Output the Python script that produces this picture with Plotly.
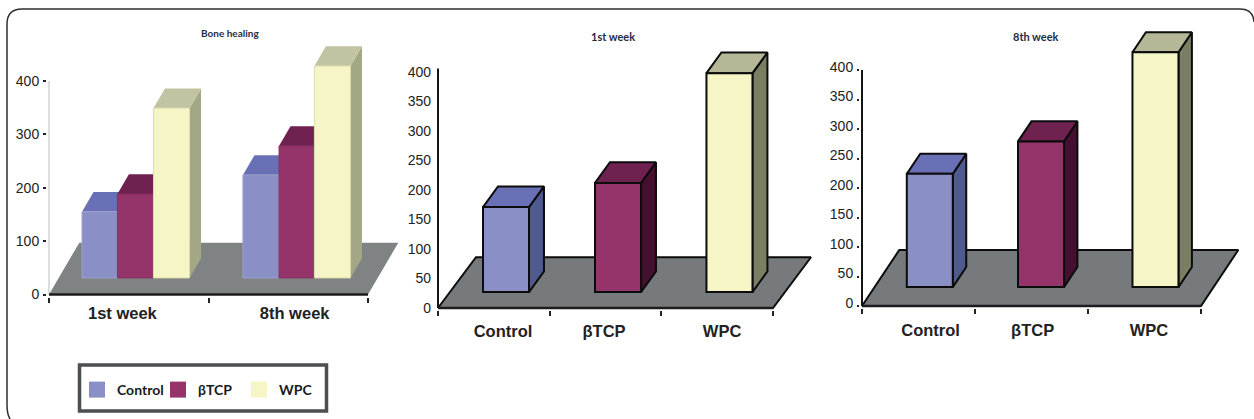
import plotly.graph_objects as go

WIDTH, HEIGHT = 1254, 419

# Values read against each chart's scale, measured as bar height above its footing
groups = ["Control", "βTCP", "WPC"]
weeks = ["1st week", "8th week"]
bone_control = [124, 193]
bone_btcp = [157, 247]
bone_wpc = [318, 397]
week1_values = [144, 185, 371]
week8_values = [192, 247, 398]
y_ticks_bone = [0, 100, 200, 300, 400]
y_ticks_weekly = [0, 50, 100, 150, 200, 250, 300, 350, 400]

FRONT = {"Control": "#8a8fc6", "βTCP": "#95346a", "WPC": "#f6f5c6"}
TOP = {"Control": "#6a70b6", "βTCP": "#6f2150", "WPC": "#b5b796"}
SIDE = {"Control": "#4f5a8e", "βTCP": "#45102f", "WPC": "#7a7f63"}
TOP_SOFT = {"Control": "#6a70b6", "βTCP": "#6f2150", "WPC": "#c2c3a2"}
SIDE_SOFT = {"Control": "#6a70b6", "βTCP": "#6f2150", "WPC": "#a4a785"}

TEXT = "#222222"
SANS = "Liberation Sans"
KEY_FONT = "Lato"
PLOT_TOP = 25  # pixel row where every plot area starts


def front_face(x, h, base, width):
    return x - width / 2, x + width / 2, base, base + h


def add_depth_faces(fig, axes, x, h, base, width, dx, dy, top_c, side_c, edge):
    left, right, bottom, top = front_face(x, h, base, width)
    line = dict(color=edge, width=2) if edge else dict(width=0)
    fig.add_trace(go.Scatter(
        x=[right, right + dx, right + dx, right, right],
        y=[top, top + dy, bottom + dy, bottom, top],
        fill="toself", fillcolor=side_c, mode="lines", line=line,
        showlegend=False, hoverinfo="skip", **axes))
    fig.add_trace(go.Scatter(
        x=[left, right, right + dx, left + dx, left],
        y=[top, top, top + dy, top + dy, top],
        fill="toself", fillcolor=top_c, mode="lines", line=line,
        showlegend=False, hoverinfo="skip", **axes))


def add_panel(fig, idx, p):
    """One chart: floor and depth faces on base axes, front faces on an overlay above."""
    n_base, n_over = 2 * idx + 1, 2 * idx + 2
    sx = lambda n: "x" if n == 1 else f"x{n}"
    sy = lambda n: "y" if n == 1 else f"y{n}"
    ax_base = dict(xaxis=sx(n_base), yaxis=sy(n_base))
    ax_over = dict(xaxis=sx(n_over), yaxis=sy(n_over))

    ux, uy = p["ux"], p["uy"]
    x_range = [-2 / ux, (p["right"] - p["x0"]) / ux]
    y_range = [-2 / uy, (p["y0"] - PLOT_TOP) / uy]
    x_dom = [(p["x0"] - 2) / WIDTH, p["right"] / WIDTH]
    y_dom = [1 - (p["y0"] + 2) / HEIGHT, 1 - PLOT_TOP / HEIGHT]

    span, fdx, fdy = p["span"], p["floor_dx"], p["floor_dy"]
    edge = p["edge"]
    fig.add_trace(go.Scatter(
        x=[0, span, span + fdx, fdx, 0], y=[0, 0, fdy, fdy, 0],
        fill="toself", fillcolor=p["floor"], mode="lines",
        line=dict(color=edge, width=2) if edge else dict(width=0),
        showlegend=False, hoverinfo="skip", **ax_base))

    for g in groups:
        for x, h in zip(p["x"][g], p["values"][g]):
            add_depth_faces(fig, ax_base, x, h, p["base"], p["width"],
                            p["dx"], p["dy"], p["top"][g], p["side"][g], edge)

    # Axis lines stop at the scale and the span, short of the floor's overhang
    fig.add_trace(go.Scatter(x=[0, 0], y=[0, 400 + p["axis_over"]], mode="lines",
                             line=dict(color=p["yline"], width=2),
                             showlegend=False, hoverinfo="skip", **ax_base))
    fig.add_trace(go.Scatter(x=[0, span], y=[0, 0], mode="lines",
                             line=dict(color="#1c1c1c", width=2.5),
                             showlegend=False, hoverinfo="skip", **ax_base))

    for g in groups:
        fig.add_trace(go.Bar(
            x=p["x"][g], y=p["values"][g], base=p["base"], width=p["width"],
            name=g, marker=dict(color=FRONT[g],
                                line=dict(color=edge or p["soft_edge"][g], width=2 if edge else 1)),
            showlegend=False, **ax_over))

    suffix = lambda n: "" if n == 1 else str(n)
    fig.update_layout({
        f"xaxis{suffix(n_base)}": dict(
            domain=x_dom, range=x_range, anchor=sy(n_base), showgrid=False, zeroline=False,
            tickmode="array", tickvals=p["label_x"], ticktext=p["labels"], ticks="",
            ticklabelstandoff=p["x_standoff"],
            tickfont=dict(family=SANS, size=16.5, color=TEXT, weight=700),
            minor=dict(tickmode="array", tickvals=list(range(span + 1)), ticks="outside",
                       ticklen=5, tickwidth=2, tickcolor="#222222", showgrid=False)),
        f"yaxis{suffix(n_base)}": dict(
            domain=y_dom, range=y_range, anchor=sx(n_base), showgrid=False, zeroline=False,
            tickmode="array", tickvals=p["y_ticks"], ticks="outside" if p["y_ticklen"] else "",
            ticklen=p["y_ticklen"], tickwidth=2, tickcolor="#222222",
            ticklabelstandoff=p["y_standoff"], ticklabelshift=p["y_shift"],
            tickfont=dict(family=SANS, size=14, color=TEXT)),
        f"xaxis{suffix(n_over)}": dict(domain=x_dom, range=x_range, overlaying=sx(n_base),
                                       anchor=sy(n_over), visible=False),
        f"yaxis{suffix(n_over)}": dict(domain=y_dom, range=y_range, overlaying=sy(n_base),
                                       anchor=sx(n_over), visible=False),
    })


fig = go.Figure()

panels = [
    dict(values={"Control": bone_control, "βTCP": bone_btcp, "WPC": bone_wpc},
         x={"Control": [0.32, 1.329], "βTCP": [0.542, 1.555], "WPC": [0.768, 1.777]},
         labels=weeks, label_x=[0.46, 1.54], span=2, x0=49, y0=294.5, right=400,
         ux=159.5, uy=0.534, base=31, width=0.226, dx=0.072, dy=37,
         floor_dx=0.19, floor_dy=97, floor="#7f8384", edge=None, top=TOP_SOFT, side=SIDE_SOFT,
         soft_edge={"Control": "#9da1d0", "βTCP": "#8c3063", "WPC": "#dcdcae"},
         yline="#dadede", axis_over=0, y_ticks=y_ticks_bone, y_ticklen=3,
         y_standoff=1, y_shift=0, x_standoff=5),
    dict(values={"Control": [week1_values[0]], "βTCP": [week1_values[1]], "WPC": [week1_values[2]]},
         x={"Control": [0.609], "βTCP": [1.612], "WPC": [2.61]},
         labels=groups, label_x=[0.582, 1.487, 2.544], span=3, x0=438, y0=308, right=816,
         ux=111.67, uy=0.59, base=27, width=0.412, dx=0.134, dy=35,
         floor_dx=0.34, floor_dy=86, floor="#767a7c", edge="#0c0c0c", top=TOP, side=SIDE,
         soft_edge=None, yline="#141414", axis_over=6, y_ticks=y_ticks_weekly, y_ticklen=0,
         y_standoff=4, y_shift=0, x_standoff=9),
    dict(values={"Control": [week8_values[0]], "βTCP": [week8_values[1]], "WPC": [week8_values[2]]},
         x={"Control": [0.60], "βTCP": [1.584], "WPC": [2.597]},
         labels=groups, label_x=[0.607, 1.51, 2.54], span=3, x0=862, y0=306, right=1241,
         ux=113, uy=0.59, base=32, width=0.407, dx=0.119, dy=34,
         floor_dx=0.33, floor_dy=95, floor="#767a7c", edge="#0c0c0c", top=TOP, side=SIDE,
         soft_edge=None, yline="#141414", axis_over=0, y_ticks=y_ticks_weekly, y_ticklen=2,
         y_standoff=1, y_shift=-3, x_standoff=10),
]

for i, panel in enumerate(panels):
    add_panel(fig, i, panel)

# Square swatches for the shared key
for g in groups:
    fig.add_trace(go.Scatter(x=[None], y=[None], mode="markers", name=g,
                             marker=dict(symbol="square", size=16, color=FRONT[g]),
                             xaxis="x", yaxis="y"))


def px(x):
    return x / WIDTH


def py(y):
    return 1 - y / HEIGHT


titles = [("Bone healing", 230, 33, 10), ("1st week", 613, 36, 11), ("8th week", 1036, 36, 11)]
annotations = [
    dict(text=t, x=px(cx), y=py(cy), xref="paper", yref="paper", showarrow=False,
         xanchor="center", yanchor="middle",
         font=dict(family=KEY_FONT, size=s, color="#1f2c44", weight=700))
    for t, cx, cy, s in titles
]

# Rounded frame, open along the bottom edge
frame = (f"M {px(10)} {py(419)} Q {px(7)} {py(414)} {px(7)} {py(405)} "
         f"L {px(7)} {py(24)} Q {px(7)} {py(9)} {px(22)} {py(9)} "
         f"L {px(1240)} {py(9)} Q {px(1253)} {py(9)} {px(1254)} {py(22)}")

shapes = [
    dict(type="path", path=frame, xref="paper", yref="paper",
         line=dict(color="#2e2e2e", width=1.5)),
    dict(type="rect", xref="paper", yref="paper", x0=px(79.5), x1=px(326.5), y0=py(411), y1=py(365),
         line=dict(color="#4a4f50", width=3.5), fillcolor="white", layer="below"),
]

fig.update_layout(
    width=WIDTH, height=HEIGHT, autosize=False,
    margin=dict(l=0, r=0, t=0, b=0, autoexpand=False),
    paper_bgcolor="white", plot_bgcolor="rgba(0,0,0,0)",
    barmode="overlay",
    showlegend=True,
    legend=dict(orientation="h", x=px(77), y=py(390), xanchor="left", yanchor="middle",
                bgcolor="rgba(0,0,0,0)", borderwidth=0, itemsizing="trace",
                entrywidth=36, entrywidthmode="pixels",
                font=dict(family=KEY_FONT, size=14, color="#1a1a1a", weight=700)),
    annotations=annotations,
    shapes=shapes,
)

fig.write_html("out.html")
